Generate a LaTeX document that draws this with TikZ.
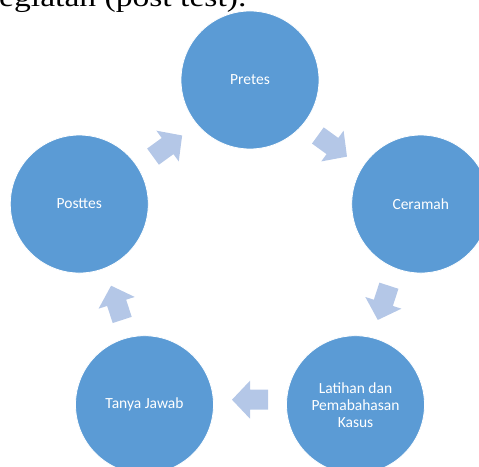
\documentclass[tikz,border=0pt]{standalone}
\usepackage{fontspec}
\setmainfont{Carlito}
\newfontfamily\titlefont[FakeStretch=1.2]{Liberation Serif}
\usetikzlibrary{calc}
\definecolor{cycleblue}{HTML}{5B9BD5}
\definecolor{arrowblue}{HTML}{B4C7E7}
\tikzset{
  stage/.style={circle,fill=cycleblue,draw=white,line width=0.8bp,minimum size=138bp,inner sep=0pt,
    text=white,align=center,font=\fontsize{15.5bp}{17bp}\selectfont},
  cyclearrow/.pic={\fill[arrowblue] (-18,-10)--(0,-10)--(0,-19)--(18,0)--(0,19)--(0,10)--(-18,10)--cycle;}
}
\begin{document}
\begin{tikzpicture}[x=1bp,y=1bp]
    \useasboundingbox (0,0) rectangle (479,467);
    \clip (0,0) rectangle (479,467);
    \node[anchor=base west,inner sep=0pt,font=\titlefont\fontsize{28bp}{30bp}\selectfont] (judul) at (-1,460) {egiatan (post test).};
    \coordinate (ctr) at (250,207.5);
    \node[stage] (pretes) at ($(ctr)+(90:179.5)$) {Pretes};
    \node[stage] (ceramah) at ($(ctr)+(18:179.5)$) {Ceramah};
    \node[stage] (latihan) at ($(ctr)+(-54:179.5)$) {Latihan dan\\Pemabahasan\\Kasus};
    \node[stage] (tanya) at ($(ctr)+(-126:179.5)$) {Tanya Jawab};
    \node[stage] (posttes) at ($(ctr)+(162:179.5)$) {Posttes};
    % panah siklus searah jarum jam
    \pic[rotate=-36] at ($(pretes)!0.5!(ceramah)!5bp!(ctr)$) {cyclearrow};
    \pic[rotate=-108] at ($(ceramah)!0.5!(latihan)!5bp!(ctr)$) {cyclearrow};
    \pic[rotate=180] at ($(latihan)!0.5!(tanya)!5bp!(ctr)$) {cyclearrow};
    \pic[rotate=108] at ($(tanya)!0.5!(posttes)!5bp!(ctr)$) {cyclearrow};
    \pic[rotate=36] at ($(posttes)!0.5!(pretes)!5bp!(ctr)$) {cyclearrow};
\end{tikzpicture}
\end{document}
